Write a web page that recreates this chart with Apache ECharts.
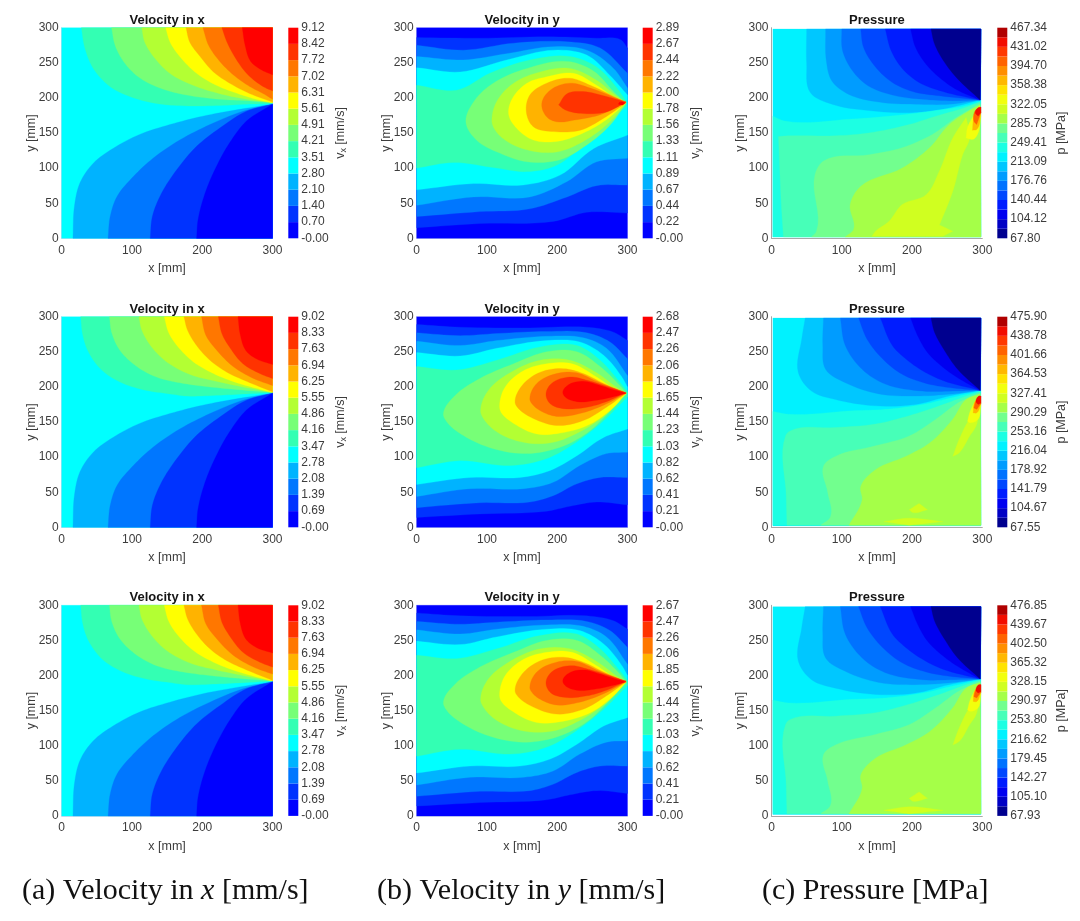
<!DOCTYPE html>
<html><head><meta charset="utf-8">
<script src="https://cdn.jsdelivr.net/npm/echarts@6/dist/echarts.min.js"></script>
<style>html,body{margin:0;padding:0;background:#fff}#c{width:1080px;height:921px;filter:blur(.5px)}</style>
</head><body><div id="c"></div>
<script>
// ---- colour-bar tick labels (top to bottom) ----
const vxTicks1=['9.12','8.42','7.72','7.02','6.31','5.61','4.91','4.21','3.51','2.80','2.10','1.40','0.70','-0.00'];
const vxTicks2=['9.02','8.33','7.63','6.94','6.25','5.55','4.86','4.16','3.47','2.78','2.08','1.39','0.69','-0.00'];
const vxTicks3=['9.02','8.33','7.63','6.94','6.25','5.55','4.86','4.16','3.47','2.78','2.08','1.39','0.69','-0.00'];
const vyTicks1=['2.89','2.67','2.44','2.22','2.00','1.78','1.56','1.33','1.11','0.89','0.67','0.44','0.22','-0.00'];
const vyTicks2=['2.68','2.47','2.26','2.06','1.85','1.65','1.44','1.23','1.03','0.82','0.62','0.41','0.21','-0.00'];
const vyTicks3=['2.67','2.47','2.26','2.06','1.85','1.65','1.44','1.23','1.03','0.82','0.62','0.41','0.21','-0.00'];
const pTicks1=['467.34','431.02','394.70','358.38','322.05','285.73','249.41','213.09','176.76','140.44','104.12','67.80'];
const pTicks2=['475.90','438.78','401.66','364.53','327.41','290.29','253.16','216.04','178.92','141.79','104.67','67.55'];
const pTicks3=['476.85','439.67','402.50','365.32','328.15','290.97','253.80','216.62','179.45','142.27','105.10','67.93'];

// ---- contour curves in data units (x mm, y mm) ----
// velocity in x: upper family, panel row 1
const vxA5=[[28,300],[33,271],[45,242],[69,216],[97,202],[135,192],[168,189],[220,189],[263,191],[300,192]];
const vxA6=[[71,300],[76,275],[88,252],[109,230],[140,214],[178,204],[225,198],[263,196],[300,193]];
const vxA7=[[114,300],[118,280],[133,256],[154,235],[187,218],[225,206],[258,199],[300,193]];
const vxA8=[[148,300],[154,280],[168,259],[192,235],[220,218],[254,205],[277,198],[300,193]];
const vxA9=[[177,300],[182,280],[197,259],[216,237],[239,221],[268,206],[300,194]];
const vxA10=[[201,300],[209,275],[225,252],[244,233],[268,216],[287,206],[300,198]];
const vxA11=[[228,300],[235,280],[249,254],[265,233],[287,216],[300,210]];
const vxA12=[[257,300],[261,275],[269,252],[284,240],[300,233]];
// velocity in x: upper family, rows 2 and 3
const vxB5=[[27,300],[30,274],[38,250],[57,224],[83,207],[116,196],[154,190],[178,187],[220,188],[263,190],[300,192]];
const vxB6=[[68,300],[71,278],[83,252],[107,229],[135,214],[173,205],[220,199],[263,195],[300,192]];
const vxB7=[[110,300],[114,281],[128,257],[149,236],[182,218],[220,208],[258,200],[300,192]];
const vxB8=[[146,300],[152,278],[164,259],[187,236],[216,219],[249,206],[277,198],[300,192]];
const vxB9=[[174,300],[179,281],[192,259],[211,238],[235,221],[263,208],[300,193]];
const vxB10=[[199,300],[205,274],[220,253],[244,229],[273,212],[300,202]];
const vxB11=[[223,300],[228,276],[240,255],[258,233],[282,219],[300,212]];
const vxB12=[[251,300],[254,275],[262,252],[277,240],[300,232]];
// velocity in x: lower family
const vxL3=[[16,0],[18,45],[26,79],[45,107],[73,128],[111,148],[154,162],[201,174],[249,183],[300,191]];
const vxL2=[[66,0],[69,31],[79,60],[102,88],[130,114],[168,140],[211,162],[258,181],[300,191]];
const vxL1=[[126,0],[129,31],[142,64],[164,98],[192,131],[225,157],[263,181],[300,191]];
const vxL0=[[192,0],[194,26],[204,64],[220,102],[239,136],[263,167],[300,191]];

// velocity in y: row 1
const vyALo1=[[0,15],[90,21],[194,24],[242,37],[300,36]];
const vyAUp1=[[0,286],[90,285],[185,287],[256,285],[290,283],[300,271]];
const vyALo2=[[0,31],[90,38],[161,42],[214,59],[256,75],[300,76]];
const vyAUp2=[[0,275],[66,268],[138,278],[214,280],[261,271],[300,235]];
const vyALo3=[[0,47],[81,59],[161,59],[214,81],[256,109],[300,114]];
const vyAUp3=[[0,259],[66,254],[128,263],[195,273],[242,268],[280,242],[300,214]];
const vyALo4=[[0,69],[81,78],[152,76],[204,90],[252,128],[300,147]];
const vyAUp4=[[0,243],[62,237],[128,254],[195,268],[242,261],[275,232],[300,204]];
const vyALo5=[[0,100],[52,108],[114,100],[157,95],[199,104],[242,138],[280,171],[298,188]];
const vyAUp5=[[0,218],[57,211],[104,235],[161,254],[218,259],[256,244],[285,214],[298,195]];
const vyA6=[[70,166],[83,197],[109,221],[157,242],[214,252],[252,238],[280,209],[297,193],[297,191],[275,161],[242,133],[204,112],[157,109],[119,121],[85,140]];
const vyA7=[[107,169],[114,195],[138,221],[176,237],[218,242],[256,225],[285,202],[298,193],[275,166],[237,138],[199,123],[157,126],[123,142],[109,159]];
const vyA8=[[131,176],[135,197],[157,221],[185,230],[223,235],[256,218],[287,197],[298,193],[270,169],[237,150],[199,138],[166,140],[142,157]];
const vyA9=[[156,180],[161,204],[185,221],[218,228],[247,218],[298,193],[266,171],[233,154],[195,152],[166,159]];
const vyA10=[[178,192],[190,211],[218,221],[247,214],[298,194],[261,176],[228,169],[199,166],[185,173]];
const vyA11=[[202,190],[214,206],[237,209],[270,202],[298,194],[270,180],[233,178],[211,183]];
const vyA12=[[289,194],[297,193],[293,190],[287,191]];
// velocity in y: rows 2 and 3
const vyBLo1=[[0,14],[90,19],[185,23],[218,30],[256,36],[300,32]];
const vyBUp1=[[0,289],[62,285],[161,284],[242,285],[280,278],[300,266]];
const vyBLo2=[[0,28],[90,35],[161,36],[194,45],[228,62],[261,71],[300,71]];
const vyBUp2=[[0,277],[62,273],[114,276],[185,279],[242,277],[275,264],[300,240]];
const vyBLo3=[[0,44],[76,55],[152,55],[194,64],[232,88],[270,105],[300,107]];
const vyBUp3=[[0,265],[62,259],[114,266],[185,272],[237,270],[270,255],[300,216]];
const vyBLo4=[[0,61],[76,71],[147,71],[190,81],[228,102],[266,128],[300,140]];
const vyBUp4=[[0,249],[62,244],[114,255],[185,266],[232,264],[266,245],[292,214],[300,200]];
const vyBLo5=[[0,85],[62,95],[133,88],[185,98],[228,122],[266,152],[300,186]];
const vyBUp5=[[0,229],[57,224],[114,238],[176,257],[228,259],[261,238],[287,209],[300,193]];
const vyB6=[[38,162],[55,188],[90,212],[138,233],[185,250],[228,250],[261,229],[289,202],[298,191],[298,190],[275,165],[242,134],[204,114],[157,105],[109,112],[66,131],[43,150]];
const vyB7=[[91,166],[102,195],[138,223],[176,238],[218,238],[256,220],[285,199],[298,191],[298,190],[270,161],[232,136],[194,121],[152,121],[114,136],[95,155]];
const vyB8=[[118,174],[126,200],[152,223],[185,233],[221,233],[256,214],[282,197],[298,191],[280,171],[247,147],[209,135],[171,133],[138,148],[120,164]];
const vyB9=[[140,178],[150,202],[176,221],[209,226],[237,219],[266,205],[298,191],[270,171],[237,152],[199,145],[166,155],[145,169]];
const vyB10=[[161,183],[171,205],[199,219],[228,220],[256,208],[298,191],[266,174],[232,162],[199,158],[176,166],[164,176]];
const vyB11=[[184,190],[192,205],[218,214],[244,209],[270,201],[298,192],[270,179],[242,171],[209,169],[190,176]];
const vyB12=[[208,193],[216,203],[237,208],[261,202],[280,196],[298,191],[280,186],[256,181],[228,179],[211,186]];

// pressure: row 1
const pA7=[[50,298],[50,249],[55,208],[86,191],[138,182],[196,179],[243,184],[297,197]];
const pA6=[[77,298],[78,253],[86,224],[110,205],[153,194],[205,191],[253,191],[297,197]];
const pA5=[[100,298],[101,268],[115,239],[138,217],[177,203],[215,198],[258,196],[297,197]];
const pA4=[[127,298],[131,272],[148,244],[172,222],[201,209],[239,203],[297,197]];
const pA3=[[162,298],[170,268],[186,242],[210,222],[244,209],[297,197]];
const pA2=[[198,298],[205,272],[220,248],[239,229],[263,212],[297,197]];
const pA0=[[227,298],[232,277],[246,251],[265,227],[297,197]];
const pA9=[[2,174],[19,167],[115,170],[177,175],[234,182],[277,189],[297,195],[298,2],[2,2]];
const pA10=[[10,145],[24,146],[91,146],[138,150],[196,162],[234,174],[272,185],[297,194],[298,2],[17,2],[14,48]];
const pA11=[[57,2],[64,10],[62,91],[74,110],[139,119],[186,129],[229,148],[263,172],[297,192],[298,2]];
const pA12=[[105,2],[117,13],[112,48],[127,74],[186,100],[225,129],[253,162],[282,182],[297,190],[298,2]];
const pA13=[[143,3],[148,10],[167,24],[186,48],[220,62],[239,96],[258,143],[277,172],[282,143],[272,119],[258,67],[239,19],[258,10],[244,3]];
const pA14=[[277,143],[279,158],[287,174],[296,189],[298,174],[294,150],[287,141]];
const pA16=[[288,172],[295,186],[298,179],[292,155],[286,154]];
const pA18=[[288,167],[290,182],[298,187],[298,179],[292,162]];
const pA20=[[290,179],[294,186],[298,187],[298,179],[294,174]];
// pressure: rows 2 and 3
const pB7=[[48,298],[43,268],[38,221],[57,194],[91,182],[148,173],[205,175],[253,187],[297,195]];
const pB6=[[74,298],[73,259],[77,225],[105,206],[153,190],[205,187],[258,190],[297,195]];
const pB5=[[98,298],[105,259],[129,225],[162,204],[215,194],[258,194],[297,195]];
const pB4=[[124,298],[136,268],[158,240],[186,218],[220,205],[253,199],[297,195]];
const pB3=[[155,298],[172,259],[191,240],[215,223],[244,209],[297,195]];
const pB2=[[198,298],[208,273],[222,249],[244,228],[265,213],[297,195]];
const pB0=[[227,298],[232,278],[248,249],[265,225],[297,195]];
const pB9=[[2,165],[24,161],[115,166],[162,168],[215,175],[258,185],[297,194],[298,3],[2,3]];
const pB10=[[20,130],[26,137],[91,142],[148,147],[196,159],[239,173],[272,185],[297,193],[298,3],[22,3],[21,44]];
const pB11=[[70,3],[84,15],[80,50],[74,87],[91,101],[148,116],[196,130],[234,154],[267,178],[297,191],[298,3]];
const pB12=[[110,3],[112,6],[129,39],[127,58],[148,82],[191,101],[225,120],[258,154],[277,182],[297,190],[298,3]];
const pB13a=[[160,8],[196,13],[244,8],[196,3]];
const pB13b=[[196,25],[210,34],[222,25],[201,21]];
const pB13c=[[258,101],[267,125],[282,154],[296,168],[291,144],[282,130],[267,106]];
const pB14=[[279,151],[282,163],[289,178],[297,187],[298,173],[294,154],[282,149]];
const pB16=[[287,163],[289,178],[295,185],[298,176],[292,163]];
const pB18=[[288,170],[291,180],[298,187],[298,176],[292,168]];
const pB20=[[291,179],[295,187],[298,187],[298,177],[294,175]];

// ---- layout and palette ----
const jet13=['#0000ff','#0033ff','#0077ff','#00b3ff','#00ffff','#33ffb3','#77ff77','#b3ff33','#ffff00','#ffb300','#ff7700','#ff3300','#ff0000'];
const jet22=['#00008f','#0000c5','#0000f0','#001cff','#0047ff','#0072ff','#009cff','#00c7ff','#00f2ff','#1cffe3','#47ffb8','#72ff8e','#a5ff48','#d0ff20','#f2ff0d','#ffe300','#ffb800','#ff8e00','#ff6300','#ff3800','#f20d00','#b00000'];
const colLeft=[61.7,416.7,771.5], rowTop=[27.7,316.7,605.3], plotW=210.8, plotH=210.6;
const barLeft=[288.3,642.7,997.3];

const whole=[[0,0],[300,0],[300,300],[0,300]];
const pWhole=[[2,2],[298,2],[298,298],[2,298]];
const closeTo=(c,p)=>c.concat([p]);
const ring=(lo,up)=>lo.concat(up.slice().reverse());
const vxRegions=(u,l)=>[[4,whole]]
  .concat(u.map((c,i)=>[5+i,closeTo(c,[300,300])]))
  .concat(l.map(([b,c])=>[b,closeTo(c,[300,0])]));
const vxLow=[[3,vxL3],[2,vxL2],[1,vxL1],[0,vxL0]];
const vxF1=vxRegions([vxA5,vxA6,vxA7,vxA8,vxA9,vxA10,vxA11,vxA12],vxLow);
const vxF2=vxRegions([vxB5,vxB6,vxB7,vxB8,vxB9,vxB10,vxB11,vxB12],vxLow);
const vyF1=[[0,whole],[1,ring(vyALo1,vyAUp1)],[2,ring(vyALo2,vyAUp2)],[3,ring(vyALo3,vyAUp3)],[4,ring(vyALo4,vyAUp4)],[5,ring(vyALo5,vyAUp5)],[6,vyA6],[7,vyA7],[8,vyA8],[9,vyA9],[10,vyA10],[11,vyA11],[12,vyA12]];
const vyF2=[[0,whole],[1,ring(vyBLo1,vyBUp1)],[2,ring(vyBLo2,vyBUp2)],[3,ring(vyBLo3,vyBUp3)],[4,ring(vyBLo4,vyBUp4)],[5,ring(vyBLo5,vyBUp5)],[6,vyB6],[7,vyB7],[8,vyB8],[9,vyB9],[10,vyB10],[11,vyB11],[12,vyB12]];
const corner=[298,298];
const pF1=[[8,pWhole],[7,closeTo(pA7,corner)],[6,closeTo(pA6,corner)],[5,closeTo(pA5,corner)],[4,closeTo(pA4,corner)],[3,closeTo(pA3,corner)],[2,closeTo(pA2,corner)],[0,closeTo(pA0,corner)],[9,pA9],[10,pA10],[11,pA11],[12,pA12],[13,pA13],[14,pA14],[16,pA16],[18,pA18],[20,pA20]];
const pF2=[[8,pWhole],[7,closeTo(pB7,corner)],[6,closeTo(pB6,corner)],[5,closeTo(pB5,corner)],[4,closeTo(pB4,corner)],[3,closeTo(pB3,corner)],[2,closeTo(pB2,corner)],[0,closeTo(pB0,corner)],[9,pB9],[10,pB10],[11,pB11],[12,pB12],[13,pB13a],[13,pB13b],[13,pB13c],[14,pB14],[16,pB16],[18,pB18],[20,pB20]];

// draws a closed outline with rounded curve joins; sharp corners and points on the plot edge stay sharp (display only)
function roundOutline(pts,src){
  const n=pts.length, out=[], tan=[];
  for(let i=0;i<n;i++){
    const a=pts[(i-1+n)%n],b=pts[i],c=pts[(i+1)%n],d=src[i];
    const u=[b[0]-a[0],b[1]-a[1]],v=[c[0]-b[0],c[1]-b[1]];
    const lu=Math.hypot(u[0],u[1])||1,lv=Math.hypot(v[0],v[1])||1;
    const cos=(u[0]*v[0]+u[1]*v[1])/(lu*lv);
    if(cos<0.35||d[0]>=296||d[0]<=2||d[1]<=3||d[1]>=297){tan.push(null);continue;}
    const t=[u[0]/lu+v[0]/lv,u[1]/lu+v[1]/lv],lt=Math.hypot(t[0],t[1])||1;
    tan.push([t[0]/lt,t[1]/lt]);
  }
  for(let i=0;i<n;i++){
    const p=pts[i],q=pts[(i+1)%n],d=[q[0]-p[0],q[1]-p[1]],L=Math.hypot(d[0],d[1]);
    const dir=L?[d[0]/L,d[1]/L]:[0,0];
    const t0=tan[i]||dir,t1=tan[(i+1)%n]||dir;
    for(let k=0;k<8;k++){
      const s=k/8,h00=2*s*s*s-3*s*s+1,h10=s*s*s-2*s*s+s,h01=-2*s*s*s+3*s*s,h11=s*s*s-s*s;
      out.push([h00*p[0]+h10*L*t0[0]+h01*q[0]+h11*L*t1[0],h00*p[1]+h10*L*t0[1]+h01*q[1]+h11*L*t1[1]]);
    }
  }
  return out;
}

const panels=[
 [{t:'Velocity in x',f:vxF1,l:vxTicks1,n:'x'},{t:'Velocity in y',f:vyF1,l:vyTicks1,n:'y'},{t:'Pressure',f:pF1,l:pTicks1,n:'p'}],
 [{t:'Velocity in x',f:vxF2,l:vxTicks2,n:'x'},{t:'Velocity in y',f:vyF2,l:vyTicks2,n:'y'},{t:'Pressure',f:pF2,l:pTicks2,n:'p'}],
 [{t:'Velocity in x',f:vxF2,l:vxTicks3,n:'x'},{t:'Velocity in y',f:vyF2,l:vyTicks3,n:'y'},{t:'Pressure',f:pF2,l:pTicks3,n:'p'}]
];
const txt='#3c3c3c', sans='"Liberation Sans",Arial,sans-serif', serif='"Liberation Serif","Times New Roman",serif';
const grid=[],xAxis=[],yAxis=[],series=[],title=[];
let g=0;
panels.forEach((row,r)=>row.forEach((p,c)=>{
  const pal=p.n==='p'?jet22:jet13, nb=pal.length, step=p.n==='p'?2:1;
  const lineC=p.n==='p'?'#a8a8a8':'#cfd8f0';
  grid.push({left:colLeft[c],top:rowTop[r],width:plotW,height:plotH});
  xAxis.push({gridIndex:g,type:'value',min:0,max:300,interval:100,name:'x [mm]',nameLocation:'middle',nameGap:24,
    nameTextStyle:{color:txt,fontSize:12.5,fontFamily:sans},
    axisLine:{onZero:false,show:true,lineStyle:{color:lineC}},axisTick:{show:false},splitLine:{show:false},
    axisLabel:{color:txt,fontSize:12,fontFamily:sans,margin:6}});
  yAxis.push({gridIndex:g,type:'value',min:0,max:300,interval:50,name:'y [mm]',nameLocation:'middle',nameGap:24,nameRotate:90,nameMoveOverlap:false,
    nameTextStyle:{color:txt,fontSize:12.5,fontFamily:sans},
    axisLine:{onZero:false,show:true,lineStyle:{color:lineC}},axisTick:{show:false},splitLine:{show:false},
    axisLabel:{color:txt,fontSize:12,fontFamily:sans,margin:3}});
  const regions=p.f;
  series.push({type:'custom',xAxisIndex:g,yAxisIndex:g,silent:true,z:3,
    data:regions.map((x,i)=>[i,x[0]]),
    renderItem(params,api){
      const reg=regions[params.dataIndex];
      return {type:'polygon',shape:{points:roundOutline(reg[1].map(q=>api.coord(q)),reg[1])},style:{fill:pal[reg[0]],stroke:pal[reg[0]],lineWidth:.3}};
    }});
  title.push({text:p.t,left:colLeft[c]+plotW/2,top:rowTop[r]-14,padding:0,textAlign:'center',
    textStyle:{fontSize:13,fontWeight:'bold',color:'#151515',fontFamily:sans}});
  g++;
  const labels=p.l;
  const nameTxt=p.n==='p'?'p [MPa]':(p.n==='x'?'{i|v}{s|x}{i| [mm/s]}':'{i|v}{s|y}{i| [mm/s]}');
  grid.push({left:barLeft[c],top:rowTop[r],width:10,height:plotH});
  xAxis.push({gridIndex:g,type:'value',min:0,max:1,show:false});
  yAxis.push({gridIndex:g,type:'value',position:'right',min:0,max:nb,interval:step,
    name:nameTxt,nameLocation:'middle',nameRotate:90,nameGap:p.n==='p'?48:35,
    nameTextStyle:{color:txt,fontSize:12.5,fontFamily:sans,
      rich:{i:{fontSize:12.5,color:txt,fontFamily:sans},s:{fontSize:9,color:txt,fontFamily:sans,verticalAlign:'bottom',padding:[6,0,0,0]}}},
    axisLine:{show:false},axisTick:{show:false},splitLine:{show:false},
    axisLabel:{color:txt,fontSize:12,fontFamily:sans,margin:3,showMinLabel:true,showMaxLabel:true,
      formatter:v=>labels[labels.length-1-Math.round(v/step)]}});
  series.push({type:'custom',xAxisIndex:g,yAxisIndex:g,silent:true,z:3,
    data:pal.map((_,i)=>[i]),
    renderItem(params,api){
      const i=params.dataIndex, a=api.coord([0,i+1]), b=api.coord([1,i]);
      return {type:'rect',shape:{x:a[0],y:a[1],width:b[0]-a[0],height:b[1]-a[1]},style:{fill:pal[i]}};
    }});
  g++;
}));
const cap=(left,text)=>({text,left,top:876,padding:0,textStyle:{fontSize:30,fontWeight:'normal',color:'#111',fontFamily:serif,
  rich:{r:{fontSize:30,color:'#111',fontFamily:serif},i:{fontSize:30,fontStyle:'italic',color:'#111',fontFamily:serif}}}});
title.push(cap(22,'{r|(a) Velocity in }{i|x}{r| [mm/s]}'),cap(377,'{r|(b) Velocity in }{i|y}{r| [mm/s]}'),cap(762,'{r|(c) Pressure [MPa]}'));

const chart=echarts.init(document.getElementById('c'),null,{renderer:'canvas'});
chart.setOption({animation:false,backgroundColor:'#fff',title,grid,xAxis,yAxis,series});
</script></body></html>
